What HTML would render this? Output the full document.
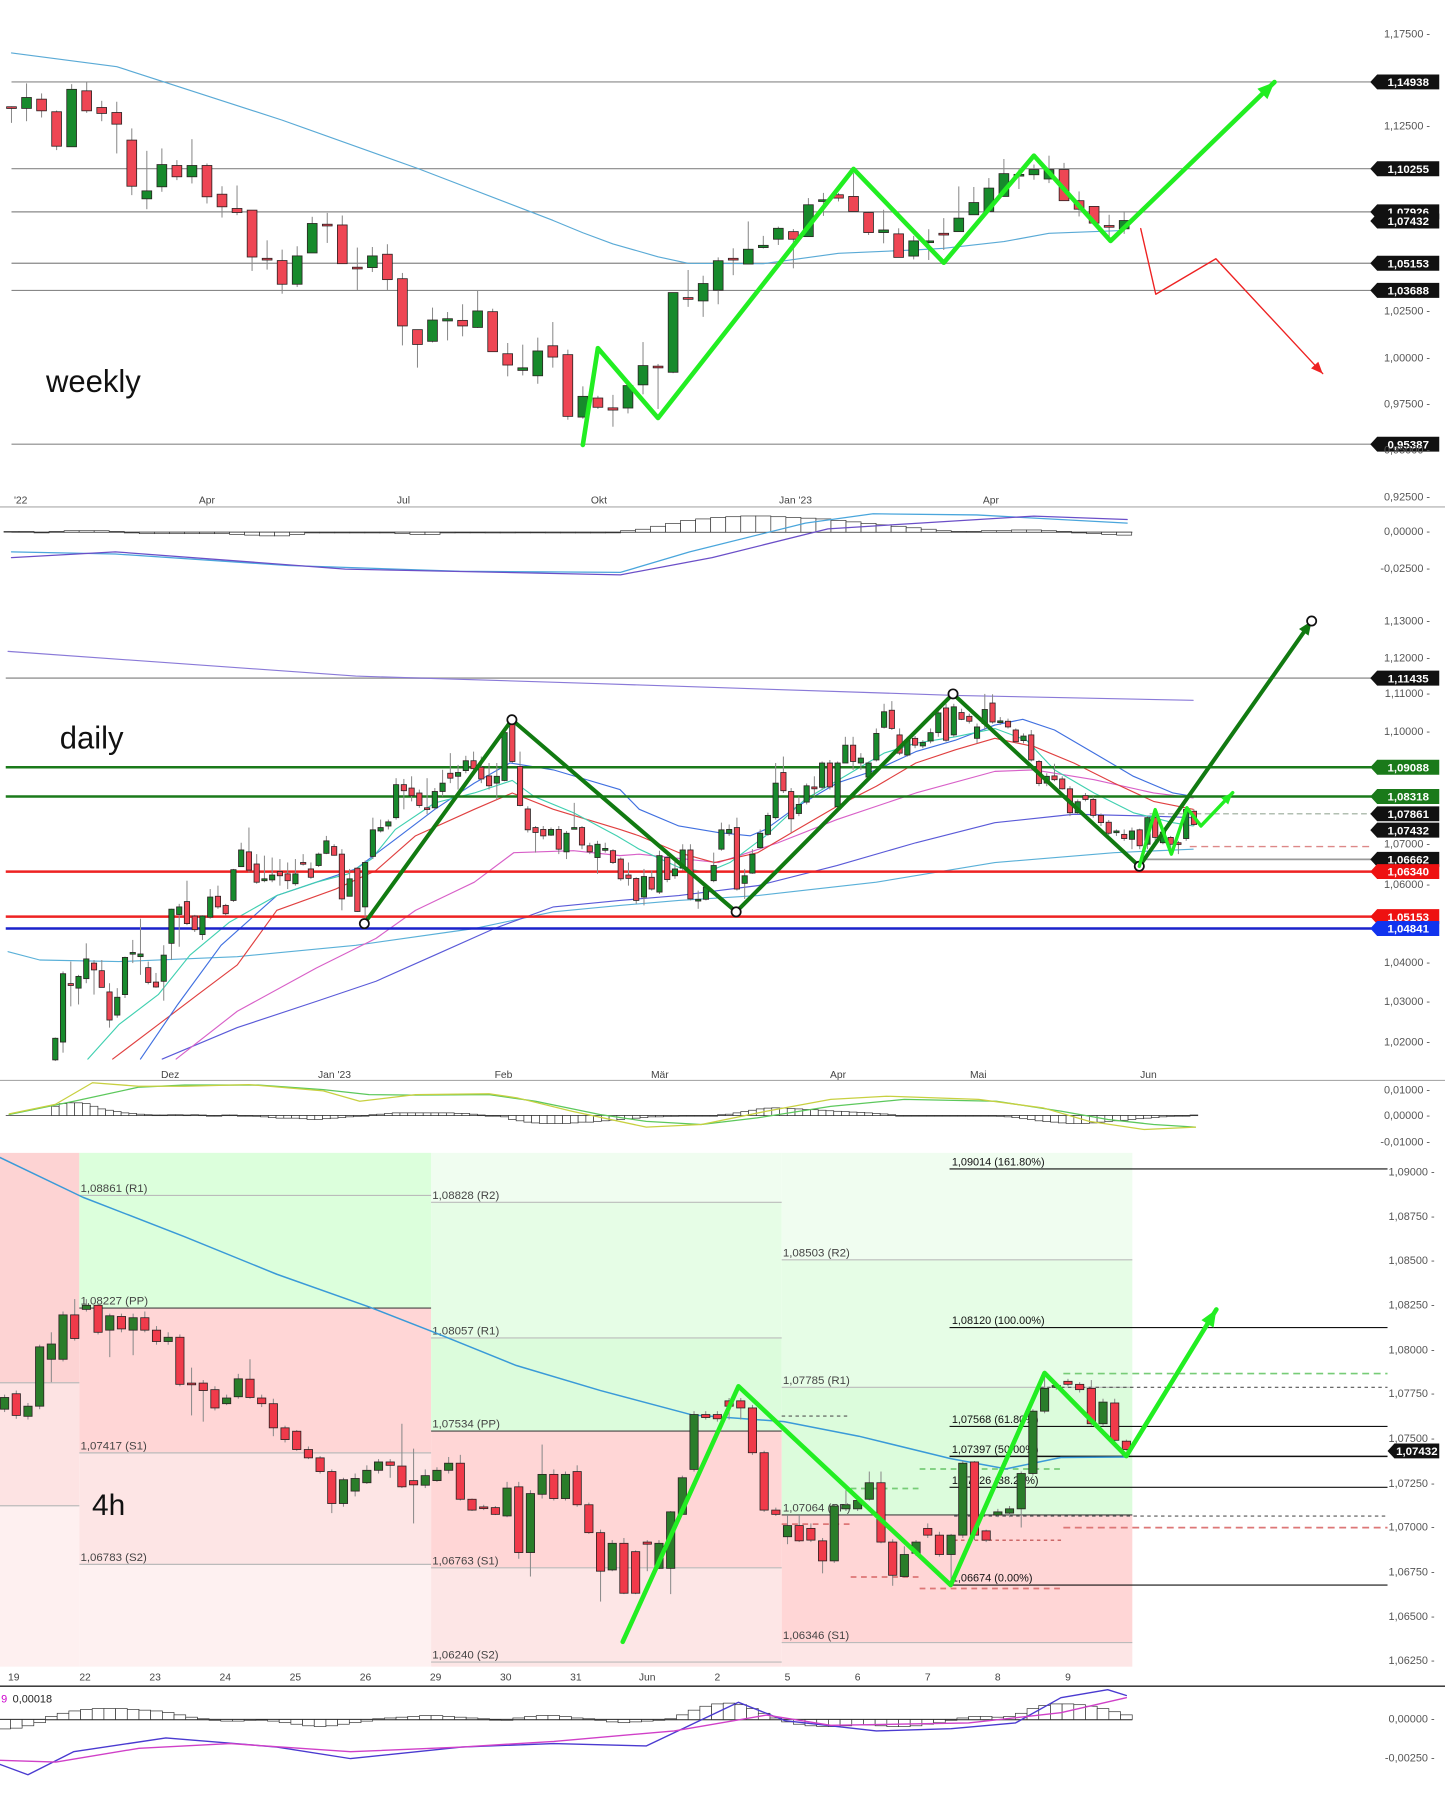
<!DOCTYPE html>
<html><head><meta charset="utf-8"><title>EURUSD weekly / daily / 4h</title>
<style>
html,body{margin:0;padding:0;background:#fff;}
svg{display:block;}
text{font-family:"Liberation Sans",sans-serif;}
.ax{font-size:9.5px;fill:#555;}
.dt{font-size:9px;fill:#444;}
.pv{font-size:10px;fill:#444;}
.fb{font-size:9.5px;fill:#111;}
</style></head>
<body>
<svg id="chart" xmlns="http://www.w3.org/2000/svg" width="1445" height="1800" viewBox="0 0 1257 1566" preserveAspectRatio="none">
<rect x="0" y="0" width="1257" height="1566" fill="#fff"/>
<!-- 4h pivot zones -->
<g>
<rect x="0" y="1003" width="69" height="200" fill="#fdd3d3"/>
<rect x="0" y="1203" width="69" height="107" fill="#fde3e3"/>
<rect x="0" y="1310" width="69" height="140" fill="#fef0f0"/>
<rect x="69" y="1003" width="306" height="135" fill="#dcffdc"/>
<rect x="69" y="1138" width="306" height="126" fill="#ffd6d6"/>
<rect x="69" y="1264" width="306" height="97" fill="#fde5e5"/>
<rect x="69" y="1361" width="306" height="89" fill="#fef1f1"/>
<rect x="375" y="1003" width="305" height="43" fill="#f0fdf0"/>
<rect x="375" y="1046" width="305" height="118" fill="#e6fde6"/>
<rect x="375" y="1164" width="305" height="81" fill="#dcfcdc"/>
<rect x="375" y="1245" width="305" height="119" fill="#ffd6d6"/>
<rect x="375" y="1364" width="305" height="86" fill="#fde6e6"/>
<rect x="680" y="1003" width="305" height="93" fill="#f0fdf0"/>
<rect x="680" y="1096" width="305" height="111" fill="#e6fde6"/>
<rect x="680" y="1207" width="305" height="111" fill="#dcfcdc"/>
<rect x="680" y="1318" width="305" height="111" fill="#ffd6d6"/>
<rect x="680" y="1429" width="305" height="21" fill="#fde6e6"/>
</g>
<g>
<line x1="0" x2="69" y1="1203" y2="1203" stroke="#bbb"/>
<line x1="0" x2="69" y1="1310" y2="1310" stroke="#bbb"/>
<line x1="69" x2="375" y1="1040" y2="1040" stroke="#bbb"/>
<line x1="69" x2="375" y1="1138" y2="1138" stroke="#444"/>
<line x1="69" x2="375" y1="1264" y2="1264" stroke="#bbb"/>
<line x1="69" x2="375" y1="1361" y2="1361" stroke="#bbb"/>
<line x1="375" x2="680" y1="1046" y2="1046" stroke="#bbb"/>
<line x1="375" x2="680" y1="1164" y2="1164" stroke="#bbb"/>
<line x1="375" x2="680" y1="1245" y2="1245" stroke="#444"/>
<line x1="375" x2="680" y1="1364" y2="1364" stroke="#bbb"/>
<line x1="375" x2="680" y1="1446" y2="1446" stroke="#bbb"/>
<line x1="680" x2="985" y1="1096" y2="1096" stroke="#bbb"/>
<line x1="680" x2="985" y1="1207" y2="1207" stroke="#bbb"/>
<line x1="680" x2="985" y1="1318" y2="1318" stroke="#444"/>
<line x1="680" x2="985" y1="1429" y2="1429" stroke="#bbb"/>
<text class="pv" x="70" y="1037">1,08861 (R1)</text>
<text class="pv" x="70" y="1135">1,08227 (PP)</text>
<text class="pv" x="70" y="1261">1,07417 (S1)</text>
<text class="pv" x="70" y="1358">1,06783 (S2)</text>
<text class="pv" x="376" y="1043">1,08828 (R2)</text>
<text class="pv" x="376" y="1161">1,08057 (R1)</text>
<text class="pv" x="376" y="1242">1,07534 (PP)</text>
<text class="pv" x="376" y="1361">1,06763 (S1)</text>
<text class="pv" x="376" y="1443">1,06240 (S2)</text>
<text class="pv" x="681" y="1093">1,08503 (R2)</text>
<text class="pv" x="681" y="1204">1,07785 (R1)</text>
<text class="pv" x="681" y="1315">1,07064 (PP)</text>
<text class="pv" x="681" y="1426">1,06346 (S1)</text>
</g>
<g>
<line x1="826" x2="1207" y1="1017" y2="1017" stroke="#111"/>
<line x1="826" x2="1207" y1="1155" y2="1155" stroke="#111"/>
<line x1="826" x2="1207" y1="1241" y2="1241" stroke="#111"/>
<line x1="826" x2="1207" y1="1267" y2="1267" stroke="#111" stroke-width="1.3"/>
<line x1="826" x2="1207" y1="1294" y2="1294" stroke="#111"/>
<line x1="826" x2="1207" y1="1379" y2="1379" stroke="#111"/>
<text class="fb" x="828" y="1014">1,09014 (161.80%)</text>
<text class="fb" x="828" y="1152">1,08120 (100.00%)</text>
<text class="fb" x="828" y="1238">1,07568 (61.80%)</text>
<text class="fb" x="828" y="1264">1,07397 (50.00%)</text>
<text class="fb" x="828" y="1291">1,07226 (38.20%)</text>
<text class="fb" x="828" y="1376">1,06674 (0.00%)</text>
<line x1="925" x2="1207" y1="1195" y2="1195" stroke="#7c7" stroke-width="1.5" stroke-dasharray="6,4"/>
<line x1="905" x2="1207" y1="1207" y2="1207" stroke="#555" stroke-dasharray="3,3"/>
<line x1="830" x2="1207" y1="1319" y2="1319" stroke="#555" stroke-dasharray="3,3"/>
<line x1="925" x2="1207" y1="1329" y2="1329" stroke="#d77" stroke-width="1.5" stroke-dasharray="6,4"/>
<line x1="680" x2="740" y1="1232" y2="1232" stroke="#555" stroke-dasharray="3,3"/>
<line x1="680" x2="740" y1="1326" y2="1326" stroke="#d77" stroke-width="1.5" stroke-dasharray="5,4"/>
<line x1="740" x2="800" y1="1295" y2="1295" stroke="#7c7" stroke-width="1.5" stroke-dasharray="5,4"/>
<line x1="740" x2="800" y1="1372" y2="1372" stroke="#d77" stroke-width="1.5" stroke-dasharray="5,4"/>
<line x1="800" x2="925" y1="1278" y2="1278" stroke="#7c7" stroke-width="1.5" stroke-dasharray="5,4"/>
<line x1="800" x2="925" y1="1382" y2="1382" stroke="#d77" stroke-width="1.5" stroke-dasharray="5,4"/>
<line x1="830" x2="925" y1="1340" y2="1340" stroke="#b44" stroke-dasharray="3,3"/>
</g>
<!-- axis separators -->
<line x1="0" x2="1257" y1="441" y2="441" stroke="#aaa"/>
<line x1="0" x2="1257" y1="940" y2="940" stroke="#aaa"/>
<line x1="0" x2="1257" y1="1467" y2="1467" stroke="#222" stroke-width="1.2"/>
<g id="plot"></g>
<!-- axis labels -->
<g text-anchor="end" dominant-baseline="middle">
<text class="ax" x="1244" y="30">1,17500 -</text>
<text class="ax" x="1244" y="110">1,12500 -</text>
<text class="ax" x="1244" y="271">1,02500 -</text>
<text class="ax" x="1244" y="312">1,00000 -</text>
<text class="ax" x="1244" y="352">0,97500 -</text>
<text class="ax" x="1244" y="392">0,95000 -</text>
<text class="ax" x="1244" y="433">0,92500 -</text>
<text class="ax" x="1244" y="463">0,00000 -</text>
<text class="ax" x="1244" y="495">-0,02500 -</text>
</g>
<g text-anchor="end" dominant-baseline="middle">
<text class="ax" x="1244" y="541">1,13000 -</text>
<text class="ax" x="1244" y="573">1,12000 -</text>
<text class="ax" x="1244" y="604">1,11000 -</text>
<text class="ax" x="1244" y="637">1,10000 -</text>
<text class="ax" x="1244" y="735">1,07000 -</text>
<text class="ax" x="1244" y="770">1,06000 -</text>
<text class="ax" x="1244" y="838">1,04000 -</text>
<text class="ax" x="1244" y="872">1,03000 -</text>
<text class="ax" x="1244" y="907">1,02000 -</text>
<text class="ax" x="1244" y="949">0,01000 -</text>
<text class="ax" x="1244" y="971">0,00000 -</text>
<text class="ax" x="1244" y="994">-0,01000 -</text>
</g>
<g text-anchor="end" dominant-baseline="middle">
<text class="ax" x="1248" y="1020">1,09000 -</text>
<text class="ax" x="1248" y="1059">1,08750 -</text>
<text class="ax" x="1248" y="1097">1,08500 -</text>
<text class="ax" x="1248" y="1136">1,08250 -</text>
<text class="ax" x="1248" y="1175">1,08000 -</text>
<text class="ax" x="1248" y="1213">1,07750 -</text>
<text class="ax" x="1248" y="1252">1,07500 -</text>
<text class="ax" x="1248" y="1291">1,07250 -</text>
<text class="ax" x="1248" y="1329">1,07000 -</text>
<text class="ax" x="1248" y="1368">1,06750 -</text>
<text class="ax" x="1248" y="1407">1,06500 -</text>
<text class="ax" x="1248" y="1445">1,06250 -</text>
<text class="ax" x="1248" y="1496">0,00000 -</text>
<text class="ax" x="1248" y="1530">-0,00250 -</text>
</g>
<g text-anchor="middle">
<text class="dt" x="18" y="438">'22</text>
<text class="dt" x="180" y="438">Apr</text>
<text class="dt" x="351" y="438">Jul</text>
<text class="dt" x="521" y="438">Okt</text>
<text class="dt" x="692" y="438">Jan '23</text>
<text class="dt" x="862" y="438">Apr</text>
</g>
<g text-anchor="middle">
<text class="dt" x="148" y="938">Dez</text>
<text class="dt" x="291" y="938">Jan '23</text>
<text class="dt" x="438" y="938">Feb</text>
<text class="dt" x="574" y="938">Mär</text>
<text class="dt" x="729" y="938">Apr</text>
<text class="dt" x="851" y="938">Mai</text>
<text class="dt" x="999" y="938">Jun</text>
</g>
<g text-anchor="middle">
<text class="dt" x="12" y="1462">19</text>
<text class="dt" x="74" y="1462">22</text>
<text class="dt" x="135" y="1462">23</text>
<text class="dt" x="196" y="1462">24</text>
<text class="dt" x="257" y="1462">25</text>
<text class="dt" x="318" y="1462">26</text>
<text class="dt" x="379" y="1462">29</text>
<text class="dt" x="440" y="1462">30</text>
<text class="dt" x="501" y="1462">31</text>
<text class="dt" x="563" y="1462">Jun</text>
<text class="dt" x="624" y="1462">2</text>
<text class="dt" x="685" y="1462">5</text>
<text class="dt" x="746" y="1462">6</text>
<text class="dt" x="807" y="1462">7</text>
<text class="dt" x="868" y="1462">8</text>
<text class="dt" x="929" y="1462">9</text>
</g>
<text x="40" y="341" font-size="27" fill="#111" font-family="Liberation Sans, sans-serif">weekly</text>
<text x="52" y="651" font-size="27" fill="#111" font-family="Liberation Sans, sans-serif">daily</text>
<text x="80" y="1318" font-size="26" fill="#111" font-family="Liberation Sans, sans-serif">4h</text>
<text x="1" y="1481" font-size="9.5" fill="#c0c">9</text>
<text x="11" y="1481" font-size="9.5" fill="#222">0,00018</text>
</svg>
<script>
// ===== WEEKLY DATA =====
const wOpen=[1.1360,1.1351,1.1401,1.1333,1.1144,1.1446,1.1356,1.1329,1.1180,1.0863,1.0928,1.1043,1.0982,1.1043,1.0888,1.0811,1.0802,1.0542,1.0530,1.0402,1.0571,1.0726,1.0722,1.0494,1.0492,1.0564,1.0432,1.0157,1.0094,1.0204,1.0207,1.0169,1.0254,1.0027,0.9937,0.9908,1.0070,1.0022,0.9685,0.9788,0.9735,0.9734,0.9859,0.9960,0.9927,1.0330,1.0312,1.0370,1.0542,1.0511,1.0600,1.0645,1.0686,1.0659,1.0849,1.0885,1.0876,1.0789,1.0681,1.0674,1.0554,1.0629,1.0677,1.0686,1.0777,1.0795,1.0876,1.0993,1.0993,1.0970,1.1021,1.0853,1.0822,1.0719,1.0701];
const wHigh=[1.1362,1.1486,1.1432,1.1340,1.1482,1.1493,1.1392,1.1387,1.1243,1.1122,1.1135,1.1072,1.1185,1.1054,1.0931,1.0935,1.0802,1.0639,1.0589,1.0607,1.0766,1.0787,1.0773,1.0600,1.0603,1.0618,1.0463,1.0157,1.0276,1.0252,1.0294,1.0366,1.0270,1.0085,1.0076,1.0114,1.0198,1.0049,0.9851,0.9800,0.9805,0.9864,1.0090,0.9972,1.0357,1.0479,1.0448,1.0547,1.0596,1.0741,1.0663,1.0713,1.0700,1.0867,1.0895,1.0895,1.1002,1.0795,1.0804,1.0704,1.0663,1.0699,1.0759,1.0930,1.0927,1.0975,1.1078,1.1021,1.1048,1.1096,1.1057,1.0903,1.0824,1.0777,1.0795];
const wLow=[1.1273,1.1282,1.1302,1.1126,1.1144,1.1327,1.1282,1.1108,1.0883,1.0807,1.0901,1.0964,1.0946,1.0838,1.0762,1.0775,1.0474,1.0481,1.0351,1.0387,1.0571,1.0625,1.0513,1.0366,1.0468,1.0366,1.0072,0.9952,1.0088,1.0099,1.0121,1.0166,1.0038,0.9905,0.9910,0.9865,0.9952,0.9671,0.9676,0.9729,0.9633,0.9705,0.9808,0.9729,0.9922,1.0280,1.0226,1.0294,1.0451,1.0511,1.0595,1.0614,1.0488,1.0659,1.0771,1.0849,1.0795,1.0668,1.0623,1.0547,1.0536,1.0533,1.0587,1.0686,1.0777,1.0790,1.0876,1.0916,1.0966,1.0948,1.0853,1.0768,1.0723,1.0659,1.0674];
const wClose=[1.1358,1.1410,1.1338,1.1147,1.1454,1.1338,1.1324,1.1266,1.0931,1.0906,1.1048,1.0982,1.1043,1.0874,1.0820,1.0789,1.0549,1.0538,1.0402,1.0555,1.0730,1.0719,1.0513,1.0490,1.0555,1.0427,1.0177,1.0077,1.0209,1.0216,1.0177,1.0258,1.0038,0.9966,0.9951,1.0042,1.0009,0.9689,0.9797,0.9738,0.9723,0.9855,0.9963,0.9956,1.0357,1.0325,1.0406,1.0529,1.0533,1.0591,1.0612,1.0704,1.0645,1.0831,1.0858,1.0867,1.0795,1.0681,1.0695,1.0547,1.0636,1.0636,1.0668,1.0759,1.0843,1.0921,1.0999,1.0995,1.1021,1.1021,1.0853,1.0807,1.0732,1.0710,1.0746];
const wMA=[[0,1.165],[7,1.1576],[18,1.1288],[27,1.1027],[36,1.0747],[38,1.068],[40,1.062],[43,1.055],[45,1.0515],[50,1.0513],[55,1.0569],[60,1.0587],[62,1.0596],[66,1.0632],[69,1.0677],[74,1.0692]];
const wLevels=[1.14938,1.10255,1.07926,1.05153,1.03688,0.95387];
const wTags=['1,14938','1,10255','1,07926','1,05153','1,03688','0,95387'];
const wZigzag=[[38.0,0.9535],[39.0,1.0057],[43.0,0.9680],[56.0,1.1024],[62.0,1.0518],[68.0,1.1096],[73.1,1.0636],[84.0,1.1493]];
const wRedPath=[[75.1,1.0702],[76.1,1.0348],[80.1,1.0540],[87.2,0.9920]];
const wHist=[0.5,0.5,0,0.5,1,1,1,0.5,-0.5,-1,-1,-1,-1,-1,-1,-1.5,-2,-2.5,-2.5,-1.5,-0.5,-0.5,-0.5,-0.5,-0.5,-0.5,-1,-1.5,-1.5,-0.5,-0.3,-0.3,-0.5,-0.5,-0.3,0,-0.5,-0.5,-0.5,-0.5,0,1,2,4,6,8,9,10,10.5,11,11,10.5,10,9.5,9,8,7,6,5,4,3,2,1,0.5,0.5,1,1,1.5,1.5,1,0.5,-0.5,-1,-1.5,-2];
const wMacdA=[[0,-13.3],[6.9,-14.8],[18.4,-22.6],[29.8,-26.5],[40.5,-27.3],[45.1,-13.3],[52.8,6.2],[57.3,12.5],[64.2,11.7],[74.2,6.2]];
const wMacdB=[[0,-17.2],[6.9,-13.3],[22.2,-25],[40.5,-28.9],[46.6,-17.2],[54.3,2.3],[60.4,6.2],[68.0,10.9],[74.2,8.6]];

// ===== DAILY DATA =====
const dOpen=[1.0138,1.0185,1.0339,1.0327,1.0352,1.0393,1.0373,1.0317,1.0256,1.0310,1.0421,1.0410,1.0381,1.0343,1.0345,1.0445,1.0521,1.0555,1.0517,1.0468,1.0514,1.0569,1.0545,1.0558,1.0647,1.0686,1.0654,1.0610,1.0612,1.0634,1.0628,1.0602,1.0658,1.0641,1.0650,1.0682,1.0700,1.0680,1.0569,1.0643,1.0541,1.0674,1.0741,1.0754,1.0776,1.0863,1.0854,1.0841,1.0802,1.0802,1.0845,1.0893,1.0885,1.0900,1.0926,1.0909,1.0886,1.0867,1.0874,1.1024,1.0911,1.0799,1.0750,1.0745,1.0730,1.0745,1.0686,1.0750,1.0750,1.0702,1.0671,1.0690,1.0689,1.0667,1.0625,1.0616,1.0567,1.0619,1.0580,1.0671,1.0623,1.0643,1.0691,1.0561,1.0561,1.0610,1.0693,1.0735,1.0750,1.0603,1.0630,1.0697,1.0732,1.0776,1.0895,1.0845,1.0787,1.0817,1.0857,1.0856,1.0920,1.0805,1.0920,1.0967,1.0920,1.0883,1.0928,1.1014,1.1059,1.0994,1.0941,1.0985,1.0965,1.0978,1.1000,1.1065,1.0994,1.1053,1.1043,1.0985,1.1024,1.1078,1.1031,1.1030,1.1007,1.0979,1.0994,1.0924,1.0867,1.0886,1.0878,1.0852,1.0789,1.0834,1.0824,1.0782,1.0764,1.0738,1.0732,1.0719,1.0744,1.0706,1.0776,1.0710,1.0724,1.0710,1.0721,1.0793];
const dHigh=[1.0197,1.0371,1.0397,1.0362,1.0445,1.0401,1.0401,1.0340,1.0327,1.0410,1.0454,1.0510,1.0397,1.0367,1.0440,1.0536,1.0549,1.0610,1.0520,1.0519,1.0588,1.0597,1.0549,1.0641,1.0710,1.0750,1.0680,1.0676,1.0671,1.0667,1.0658,1.0667,1.0680,1.0658,1.0684,1.0728,1.0706,1.0693,1.0641,1.0645,1.0663,1.0776,1.0771,1.0771,1.0880,1.0878,1.0885,1.0850,1.0880,1.0854,1.0902,1.0946,1.0915,1.0939,1.0950,1.0937,1.0920,1.0920,1.1011,1.1028,1.0950,1.0806,1.0754,1.0754,1.0750,1.0754,1.0741,1.0815,1.0754,1.0710,1.0715,1.0710,1.0693,1.0671,1.0658,1.0619,1.0641,1.0636,1.0689,1.0676,1.0667,1.0706,1.0706,1.0584,1.0597,1.0684,1.0763,1.0758,1.0776,1.0641,1.0693,1.0745,1.0789,1.0920,1.0937,1.0854,1.0832,1.0866,1.0885,1.0924,1.0928,1.0924,1.0989,1.0989,1.0946,1.0924,1.1011,1.1076,1.1083,1.1011,1.0989,1.0991,1.0980,1.1011,1.1059,1.1076,1.1076,1.1063,1.1050,1.1024,1.1102,1.1101,1.1041,1.1037,1.1011,1.0998,1.1007,1.0928,1.0893,1.0918,1.0885,1.0859,1.0824,1.0841,1.0832,1.0787,1.0770,1.0745,1.0745,1.0750,1.0747,1.0780,1.0785,1.0745,1.0728,1.0715,1.0802,1.0798];
const dLow=[1.0135,1.0157,1.0279,1.0284,1.0340,1.0310,1.0329,1.0223,1.0249,1.0301,1.0393,1.0362,1.0337,1.0328,1.0294,1.0401,1.0436,1.0493,1.0475,1.0454,1.0510,1.0536,1.0519,1.0554,1.0647,1.0632,1.0602,1.0606,1.0606,1.0597,1.0588,1.0597,1.0650,1.0615,1.0646,1.0680,1.0676,1.0532,1.0569,1.0528,1.0514,1.0667,1.0737,1.0745,1.0771,1.0798,1.0819,1.0802,1.0785,1.0798,1.0832,1.0867,1.0850,1.0893,1.0898,1.0867,1.0850,1.0824,1.0872,1.0920,1.0806,1.0737,1.0684,1.0719,1.0728,1.0680,1.0667,1.0745,1.0693,1.0680,1.0628,1.0684,1.0654,1.0610,1.0597,1.0549,1.0545,1.0584,1.0575,1.0606,1.0615,1.0637,1.0558,1.0536,1.0558,1.0606,1.0689,1.0728,1.0584,1.0562,1.0628,1.0693,1.0728,1.0771,1.0841,1.0737,1.0780,1.0811,1.0832,1.0850,1.0850,1.0798,1.0920,1.0902,1.0902,1.0876,1.0924,1.1011,1.1007,1.0941,1.0937,1.0959,1.0959,1.0972,1.0989,1.0976,1.0989,1.1033,1.1024,1.0972,1.1007,1.1024,1.1020,1.1011,1.0972,1.0972,1.0924,1.0859,1.0859,1.0872,1.0850,1.0780,1.0785,1.0819,1.0776,1.0754,1.0730,1.0728,1.0715,1.0693,1.0693,1.0693,1.0715,1.0706,1.0684,1.0680,1.0715,1.0754];
const dClose=[1.0195,1.0365,1.0334,1.0358,1.0404,1.0375,1.0329,1.0243,1.0303,1.0408,1.0421,1.0417,1.0342,1.0330,1.0414,1.0535,1.0541,1.0497,1.0481,1.0517,1.0567,1.0541,1.0523,1.0639,1.0691,1.0638,1.0606,1.0615,1.0625,1.0623,1.0610,1.0628,1.0654,1.0619,1.0680,1.0715,1.0677,1.0562,1.0615,1.0529,1.0658,1.0744,1.0750,1.0765,1.0863,1.0847,1.0834,1.0808,1.0799,1.0845,1.0867,1.0880,1.0895,1.0926,1.0905,1.0878,1.0860,1.0885,1.1000,1.0924,1.0808,1.0744,1.0737,1.0728,1.0745,1.0693,1.0735,1.0750,1.0704,1.0686,1.0706,1.0695,1.0658,1.0615,1.0616,1.0558,1.0621,1.0588,1.0676,1.0613,1.0641,1.0691,1.0562,1.0561,1.0593,1.0650,1.0744,1.0745,1.0588,1.0623,1.0680,1.0735,1.0782,1.0867,1.0847,1.0773,1.0811,1.0860,1.0852,1.0920,1.0857,1.0920,1.0967,1.0924,1.0933,1.0920,1.0998,1.1055,1.1011,1.0946,1.0980,1.0967,1.0974,1.1000,1.1052,1.0980,1.1068,1.1035,1.1030,1.1015,1.1061,1.1028,1.1031,1.1015,1.0976,1.0991,1.0928,1.0866,1.0885,1.0876,1.0852,1.0789,1.0818,1.0824,1.0782,1.0763,1.0735,1.0741,1.0721,1.0741,1.0702,1.0776,1.0724,1.0738,1.0706,1.0706,1.0798,1.0758];
const dMA10=[[4.2,1.0140],[8.2,1.0231],[13.3,1.0310],[17.4,1.0414],[22.5,1.0501],[28.6,1.0571],[33.7,1.0606],[37.8,1.0628],[40.8,1.0667],[43.9,1.0745],[49.0,1.0815],[54.1,1.0841],[59.0,1.0874],[61.8,1.0832],[66.9,1.0789],[72.5,1.0728],[75.4,1.0693],[80.5,1.0645],[84.1,1.0632],[87.1,1.0658],[91.7,1.0728],[96.8,1.0824],[101.9,1.0885],[107.0,1.0946],[111.1,1.0972],[116.2,1.0989],[121.3,1.1011],[125.4,1.0980],[129.0,1.0902],[134.1,1.0841],[139.2,1.0789],[144.3,1.0763],[146.9,1.0754]];
const dMA20=[[11.0,1.0140],[15.8,1.0284],[21.4,1.0440],[28.6,1.0571],[33.7,1.0606],[38.8,1.0641],[43.9,1.0719],[49.0,1.0798],[54.1,1.0867],[58.7,1.0920],[64.3,1.0902],[72.9,1.0850],[75.4,1.0798],[80.5,1.0754],[85.6,1.0737],[89.7,1.0728],[91.7,1.0745],[95.8,1.0806],[100.9,1.0867],[106.0,1.0902],[111.1,1.0950],[116.2,1.0980],[121.3,1.1020],[124.9,1.1035],[129.0,1.1007],[134.1,1.0946],[139.2,1.0885],[144.3,1.0841],[146.9,1.0832]];
const dMA30=[[7.4,1.0140],[13.3,1.0231],[18.4,1.0310],[23.5,1.0388],[28.6,1.0532],[36.2,1.0588],[41.4,1.0637],[46.5,1.0728],[54.1,1.0798],[59.0,1.0841],[64.3,1.0798],[72.9,1.0745],[75.4,1.0728],[80.5,1.0684],[85.1,1.0658],[90.7,1.0684],[95.8,1.0745],[100.9,1.0806],[106.0,1.0859],[111.1,1.0920],[116.2,1.0955],[121.3,1.0985],[126.4,1.0963],[131.5,1.0920],[136.7,1.0867],[141.8,1.0819],[146.9,1.0798]];
const dMA50=[[15.6,1.0140],[23.5,1.0266],[33.7,1.0380],[41.4,1.0458],[46.5,1.0532],[54.1,1.0606],[59.2,1.0684],[66.9,1.0689],[72.9,1.0676],[75.4,1.0680],[85.6,1.0658],[93.3,1.0710],[100.9,1.0771],[111.1,1.0841],[121.3,1.0898],[126.4,1.0902],[134.1,1.0876],[141.8,1.0841],[146.9,1.0828]];
const dMA100=[[13.8,1.0140],[23.5,1.0223],[33.7,1.0292],[41.4,1.0345],[49.0,1.0414],[56.7,1.0484],[64.3,1.0541],[72.9,1.0558],[80.5,1.0571],[90.7,1.0597],[100.9,1.0650],[111.1,1.0710],[121.3,1.0763],[131.5,1.0785],[141.8,1.0780],[146.9,1.0776]];
const dMA200=[[-6.1,1.0423],[-2.0,1.0401],[8.2,1.0397],[23.5,1.0410],[38.8,1.0440],[54.1,1.0484],[64.3,1.0528],[72.9,1.0545],[80.5,1.0558],[90.7,1.0571],[106.0,1.0606],[121.3,1.0658],[136.7,1.0684],[146.9,1.0693]];
const dMALong=[[-6.1,1.1214],[38.8,1.1149],[70.3,1.1129],[116.2,1.1098],[146.9,1.1085]];
const dLevels=[1.11435,1.09088,1.08318,1.06340,1.05153,1.04841];
const dLevelColors=['#aaa','#1a7a1a','#1a7a1a','#ee2222','#ee2222','#1a22cc'];
const dTagValues=[1.11435,1.09088,1.08318,1.07861,1.07432,1.06662,1.06340,1.05153,1.04841];
const dTagText=['1,11435','1,09088','1,08318','1,07861','1,07432','1,06662','1,06340','1,05153','1,04841'];
const dTagColors=['#111','#1a7a1a','#1a7a1a','#111','#111','#111','#ee1111','#ee1111','#1133ee'];
const dZigzag=[[39.9,1.0497],[58.95,1.1034],[87.9,1.0528],[115.9,1.1102],[139.95,1.0648],[162.2,1.1294]];
const dSmallZig=[[139.95,1.0648],[142.0,1.0797],[144.1,1.0680],[146.1,1.0802],[147.9,1.0754],[152.0,1.0842]];
const dHist=[3.5,4.5,4.8,4.8,4.5,3.5,2.5,2,1.5,1,0.8,0.5,0.3,0.2,0.2,0.3,0.3,0.2,0.3,0.2,0,0,0.2,0.2,0,0,-0.3,-0.5,-0.8,-1,-1,-1,-1.2,-1.5,-1.5,-1.2,-1,-0.8,-0.5,-0.3,0,0.3,0.5,0.8,1,1,1,1,1,1,1,1,0.8,0.8,0.5,0.2,0,0,-0.5,-1.5,-2,-2.5,-2.8,-3,-3,-3,-3,-2.8,-2.5,-2.5,-2.2,-2,-1.8,-1.5,-1.2,-1,-0.8,-0.5,-0.5,-0.3,-0.3,-0.2,0,0,-0.2,0,0.3,0.5,1,1.5,2,2.5,2.8,2.9,2.8,2.6,2.5,2.3,2.2,2,1.8,1.6,1.5,1.3,1.2,1,0.8,0.6,0.3,0,0,0,0,0,0,0,-0.2,-0.2,0,0,0,-0.2,-0.3,-0.5,-0.8,-1.2,-1.5,-2,-2.3,-2.5,-2.8,-3,-3,-3,-2.8,-2.5,-2.2,-2,-1.8,-1.5,-1.2,-1,-0.8,-0.5,-0.3,-0.2,0,0.2];
const dMacdA=[[-5.95,0.4],[2.4,5.4],[10.7,10.7],[16.7,11.5],[26.2,11.5],[34.6,9.8],[40.5,7.9],[46.5,7.7],[56.0,7.9],[62.0,5.4],[70.3,0.4],[76.3,-2.2],[83.4,-3.4],[90.6,-0.9],[100.1,3.5],[109.6,6.1],[121.5,5.4],[129.9,1.6],[135.9,-1.5],[141.8,-3.4],[147.2,-4.4]];
const dMacdB=[[-5.95,0.6],[0,4.2],[4.8,12.4],[10.7,11.1],[16.7,11.1],[25.0,11.7],[34.6,9.3],[39.3,5.4],[46.5,7.9],[56.0,8.2],[59.6,6.7],[66.7,1.6],[76.3,-4.4],[83.4,-3.4],[91.8,1.6],[100.1,6.1],[107.3,7.3],[119.2,6.1],[127.5,2.9],[133.5,-2.2],[140.6,-5.3],[147.2,-4.4]];

// ===== 4H DATA =====
const hOpen=[1.07667,1.07754,1.07627,1.07684,1.07948,1.07948,1.08198,1.08229,1.08252,1.08112,1.08189,1.08112,1.08182,1.08112,1.08048,1.08072,1.07814,1.07814,1.07777,1.07698,1.07737,1.07836,1.07730,1.07698,1.07562,1.07543,1.07440,1.07393,1.07316,1.07136,1.07206,1.07253,1.07323,1.07370,1.07347,1.07265,1.07239,1.07265,1.07323,1.07363,1.07160,1.07117,1.07113,1.07066,1.07230,1.06860,1.07188,1.07300,1.07164,1.07316,1.07129,1.06972,1.06762,1.06912,1.06865,1.06919,1.06771,1.06771,1.07075,1.07328,1.07637,1.07637,1.07714,1.07714,1.07674,1.07422,1.07099,1.06949,1.07012,1.06996,1.06926,1.06813,1.07106,1.07106,1.07160,1.07253,1.06919,1.06725,1.06856,1.06996,1.06958,1.06849,1.06958,1.07370,1.06982,1.07071,1.07082,1.07106,1.07305,1.07656,1.07791,1.07824,1.07807,1.07784,1.07585,1.07702,1.07487];
const hHigh=[1.07749,1.07772,1.07702,1.08030,1.08100,1.08217,1.08287,1.08287,1.08264,1.08205,1.08205,1.08205,1.08217,1.08135,1.08100,1.08088,1.07901,1.07831,1.07796,1.07749,1.07866,1.07948,1.07749,1.07726,1.07574,1.07550,1.07457,1.07403,1.07328,1.07281,1.07305,1.07351,1.07386,1.07386,1.07585,1.07445,1.07328,1.07340,1.07398,1.07410,1.07164,1.07129,1.07122,1.07258,1.07258,1.07211,1.07468,1.07328,1.07316,1.07351,1.07141,1.06989,1.06930,1.06942,1.06872,1.06930,1.06930,1.07094,1.07293,1.07656,1.07656,1.07656,1.07730,1.07730,1.07691,1.07433,1.07113,1.07071,1.07071,1.07024,1.06942,1.07129,1.07211,1.07169,1.07316,1.07316,1.06935,1.06895,1.06930,1.07024,1.06977,1.06965,1.07375,1.07375,1.06989,1.07106,1.07122,1.07316,1.07667,1.07854,1.07819,1.07838,1.07819,1.07831,1.07726,1.07726,1.07496];
const hLow=[1.07651,1.07613,1.07609,1.07667,1.07819,1.07936,1.08053,1.08217,1.08088,1.07960,1.08100,1.07971,1.08100,1.08030,1.08030,1.07796,1.07632,1.07597,1.07660,1.07690,1.07726,1.07726,1.07679,1.07515,1.07480,1.07433,1.07386,1.07305,1.07082,1.07118,1.07176,1.07246,1.07305,1.07281,1.07223,1.07024,1.07223,1.07258,1.07305,1.07153,1.07094,1.07099,1.07071,1.07059,1.06825,1.06725,1.07164,1.07153,1.07153,1.07118,1.06965,1.06584,1.06755,1.06626,1.06626,1.06755,1.06767,1.06626,1.07071,1.07316,1.07609,1.07597,1.07609,1.07609,1.07410,1.07089,1.07066,1.06907,1.06919,1.06919,1.06743,1.06802,1.07094,1.07094,1.07153,1.06912,1.06673,1.06720,1.06841,1.06942,1.06837,1.06673,1.06942,1.06930,1.06919,1.07059,1.07059,1.07001,1.07293,1.07644,1.07777,1.07796,1.07761,1.07574,1.07574,1.07480,1.07433];
const hClose=[1.07733,1.07632,1.07684,1.08018,1.08034,1.08198,1.08065,1.08252,1.08100,1.08193,1.08119,1.08182,1.08112,1.08048,1.08072,1.07807,1.07805,1.07772,1.07674,1.07730,1.07838,1.07733,1.07698,1.07562,1.07496,1.07440,1.07393,1.07316,1.07136,1.07270,1.07277,1.07323,1.07370,1.07351,1.07230,1.07241,1.07293,1.07323,1.07363,1.07160,1.07099,1.07113,1.07075,1.07223,1.06860,1.07192,1.07300,1.07164,1.07300,1.07129,1.06972,1.06755,1.06912,1.06631,1.06631,1.06907,1.06912,1.07089,1.07281,1.07637,1.07620,1.07613,1.07684,1.07674,1.07422,1.07099,1.07075,1.07012,1.06926,1.06930,1.06813,1.07122,1.07129,1.07153,1.07253,1.06919,1.06732,1.06849,1.06919,1.06958,1.06849,1.06958,1.07363,1.06958,1.06930,1.07089,1.07106,1.07305,1.07656,1.07784,1.07800,1.07807,1.07777,1.07585,1.07707,1.07492,1.07440];
const hMA=[[-0.4,1.09084],[6.7,1.08860],[15.4,1.08638],[23.3,1.08427],[31.2,1.08243],[36.7,1.08101],[43.8,1.07913],[51.0,1.07772],[58.8,1.07635],[66.7,1.07597],[73.1,1.07515],[80.96,1.07389],[85.7,1.07331],[90.4,1.07395],[96.0,1.07398]];
const hZigzag=[[52.9,1.06357],[62.8,1.07796],[80.96,1.06677],[89.0,1.07871],[96.0,1.07403],[103.7,1.08229]];
const hTagValue=1.07432;
const hHist=[-60,-55,-40,-20,20,40,55,65,70,70,70,65,60,55,45,30,15,5,-5,-10,-10,-5,0,-10,-20,-30,-40,-45,-40,-30,-20,-10,5,10,15,20,25,25,20,15,10,5,0,-5,10,20,25,25,20,10,5,-5,-15,-20,-15,-10,-5,5,30,60,85,100,105,95,70,40,10,-15,-30,-40,-45,-45,-40,-35,-35,-40,-45,-45,-40,-30,-20,-5,10,20,20,15,20,40,70,90,100,100,95,85,70,50,30];
const hMacdA=[[-0.4,-287],[2.0,-353],[5.9,-206],[13.8,-118],[23.3,-176],[29.6,-250],[39.1,-176],[47.0,-154],[54.9,-169],[62.8,110],[66.8,-7],[74.6,-73],[81.0,-59],[86.5,-22],[90.4,140],[94.4,191],[96.0,154]];
const hMacdB=[[-0.4,-261],[4.4,-272],[11.5,-184],[19.3,-154],[29.6,-206],[39.1,-176],[47.0,-140],[57.3,-73],[65.2,29],[70.7,-37],[82.5,-22],[90.4,44],[96.0,140]];

// ===== SCALES =====
const xW=i=>10+i*13.08, yW=p=>30+(1.175-p)*1612, yWM=v=>463-v/0.78;
const xD=i=>48.1+i*6.738, yD=p=>538.3+(1.13-p)*3303, yDM=v=>970.5-v*2.3;
const xH=i=>4.0+i*10.165, yH=p=>1020+(1.09-p)*15454, yHM=v=>1496-v*0.136;

const NS='http://www.w3.org/2000/svg';
const plot=document.getElementById('plot');
function el(tag,attrs,parent){const e=document.createElementNS(NS,tag);for(const k in attrs)e.setAttribute(k,attrs[k]);parent.appendChild(e);return e;}
function group(name){const g=el('g',{},plot);
 
 
 return g;}
function hline(g,y,x1,x2,color,w,dash,name){const l=el('line',{x1:x1,x2:x2,y1:y,y2:y,stroke:color,'stroke-width':w},g);if(dash)l.setAttribute('stroke-dasharray',dash);
 
 
 return l;}
function poly(g,pts,xf,yf,color,w,name){const d=pts.map((p,k)=>(k?'L':'M')+xf(p[0]).toFixed(1)+' '+yf(p[1]).toFixed(1)).join(' ');
 const e=el('path',{d:d,fill:'none',stroke:color,'stroke-width':w,'stroke-linejoin':'round','stroke-linecap':'round'},g);
 
 
 return e;}
function arrowHead(g,x1,y1,x2,y2,size,color,name){const a=Math.atan2(y2-y1,x2-x1);const p=[[x2,y2],[x2-size*Math.cos(a-0.4),y2-size*Math.sin(a-0.4)],[x2-size*Math.cos(a+0.4),y2-size*Math.sin(a+0.4)]];
 const e=el('polygon',{points:p.map(q=>q[0].toFixed(1)+','+q[1].toFixed(1)).join(' '),fill:color},g);
 
 }
function tag(g,y,txt,bg,name,x0){x0=x0||1192;const e=el('polygon',{points:`${x0},${y} ${x0+6},${y-6.5} 1252,${y-6.5} 1252,${y+6.5} ${x0+6},${y+6.5}`,fill:bg},g);
 
 
 const t=el('text',{x:(x0+1252)/2+3,y:y+3.6,'text-anchor':'middle','font-size':10,'font-weight':'bold',fill:'#fff'},g);
 t.textContent=txt;
 
 }
function candles(g,O,H,L,C,xf,yf,bw,prefix,upC,dnC){
 for(let i=0;i<O.length;i++){const x=xf(i),up=C[i]>=O[i];
  const w=el('line',{x1:x,x2:x,y1:yf(H[i]),y2:yf(L[i]),stroke:'#8a8a8a','stroke-width':0.9},g);
  
  
  const top=yf(Math.max(O[i],C[i])),bot=yf(Math.min(O[i],C[i]));
  const b=el('rect',{x:x-bw/2,y:top,width:bw,height:Math.max(1.5,bot-top),fill:up?upC:dnC,stroke:'#2a2222','stroke-width':0.7},g);
  
  }}
function hist(g,vals,xf,yf,bw,prefix){const y0=yf(0);
 for(let i=0;i<vals.length;i++){const y=yf(vals[i]);
  const r=el('rect',{x:xf(i)-bw/2,y:Math.min(y,y0),width:bw,height:Math.max(0.6,Math.abs(y-y0)),fill:'#fff',stroke:'#333','stroke-width':0.6},g);
  
  }}
function circle(g,x,y,name){const c=el('circle',{cx:x,cy:y,r:4,fill:'#fff',stroke:'#111','stroke-width':1.5},g);
 
 }

// ===== WEEKLY =====
const gw=group('weekly-panel');
wLevels.forEach(p=>hline(gw,yW(p),10,1195,'#888',1,null,'weekly-level-line'));
poly(gw,wMA,xW,yW,'#5aaad6',1,'weekly-moving-average');
candles(gw,wOpen,wHigh,wLow,wClose,xW,yW,8.5,'weekly','#178a2c','#ee4654');
poly(gw,wZigzag,xW,yW,'#22ee22',4,'weekly-green-projection');
{const n=wZigzag.length,a=wZigzag[n-2],b=wZigzag[n-1];arrowHead(gw,xW(a[0]),yW(a[1]),xW(b[0]),yW(b[1]),16,'#22ee22','weekly-green-arrowhead');}
poly(gw,wRedPath,xW,yW,'#ee2222',1.2,'weekly-red-projection');
{const n=wRedPath.length,a=wRedPath[n-2],b=wRedPath[n-1];arrowHead(gw,xW(a[0]),yW(a[1]),xW(b[0]),yW(b[1]),11,'#ee2222','weekly-red-arrowhead');}
wLevels.forEach((p,k)=>tag(gw,yW(p),wTags[k],'#111','weekly-price-tag'));
tag(gw,yW(1.07432),'1,07432','#111','weekly-last-price-tag');
hline(gw,yWM(0),10,985,'#333',0.7,null,'weekly-macd-zero');
hist(gw,wHist,xW,yWM,13.08,'weekly-macd');
poly(gw,wMacdA,xW,yWM,'#4aa6dc',1.1,'weekly-macd-line');
poly(gw,wMacdB,xW,yWM,'#6b4fc8',1.1,'weekly-signal-line');

// ===== DAILY =====
const gd=group('daily-panel');
hline(gd,yD(1.11435),5,1195,'#aaa',1.5,null,'daily-level-line');
poly(gd,dMALong,xD,yD,'#8a7ad8',1,'daily-long-ma');
poly(gd,dMA200,xD,yD,'#5ab0d8',1,'daily-ma-200');
poly(gd,dMA100,xD,yD,'#5a5ad8',1,'daily-ma-100');
poly(gd,dMA50,xD,yD,'#d860c8',1,'daily-ma-50');
poly(gd,dMA30,xD,yD,'#e04040',1,'daily-ma-30');
poly(gd,dMA20,xD,yD,'#4070e0',1,'daily-ma-20');
poly(gd,dMA10,xD,yD,'#40d0b0',1,'daily-ma-10');
dLevels.slice(1).forEach((p,k)=>hline(gd,yD(p),5,1195,dLevelColors[k+1],2.2,null,'daily-level-line'));
hline(gd,yD(1.06662),995,1195,'#999',1.5,null,'daily-level-line');
hline(gd,yD(1.07861),1000,1195,'#9a9',1,'5,3','daily-dashed-level');
hline(gd,yD(1.0700),1035,1195,'#d88',1.2,'6,4','daily-dashed-level');
candles(gd,dOpen,dHigh,dLow,dClose,xD,yD,4.6,'daily','#178a2c','#ee4654');
poly(gd,dZigzag,xD,yD,'#117a11',3.5,'daily-zigzag');
{const n=dZigzag.length,a=dZigzag[n-2],b=dZigzag[n-1];arrowHead(gd,xD(a[0]),yD(a[1]),xD(b[0]),yD(b[1]),13,'#117a11','daily-arrowhead');}
dZigzag.forEach(p=>circle(gd,xD(p[0]),yD(p[1]),'daily-pivot-marker'));
poly(gd,dSmallZig,xD,yD,'#22ee22',3,'daily-small-projection');
{const n=dSmallZig.length,a=dSmallZig[n-2],b=dSmallZig[n-1];arrowHead(gd,xD(a[0]),yD(a[1]),xD(b[0]),yD(b[1]),11,'#22ee22','daily-small-arrowhead');}
dTagValues.forEach((p,k)=>tag(gd,yD(p),dTagText[k],dTagColors[k],'daily-price-tag'));
hline(gd,yDM(0),5,1040,'#333',0.7,null,'daily-macd-zero');
hist(gd,dHist,xD,yDM,6.738,'daily-macd');
poly(gd,dMacdA,xD,yDM,'#5cc85c',1.1,'daily-macd-line');
poly(gd,dMacdB,xD,yDM,'#c8d040',1.1,'daily-signal-line');

// ===== 4H =====
const gh=group('h4-panel');
poly(gh,hMA,xH,yH,'#3a9ad8',1.3,'h4-moving-average');
candles(gh,hOpen,hHigh,hLow,hClose,xH,yH,7.2,'h4','#2a7d2a','#f03a4a');
poly(gh,hZigzag,xH,yH,'#22ee22',4,'h4-green-projection');
{const n=hZigzag.length,a=hZigzag[n-2],b=hZigzag[n-1];arrowHead(gh,xH(a[0]),yH(a[1]),xH(b[0]),yH(b[1]),16,'#22ee22','h4-arrowhead');}
tag(gh,yH(hTagValue),'1,07432','#111','h4-last-price-tag',1207);
hline(gh,yHM(0),0,985,'#111',1.2,null,'h4-macd-zero');
hist(gh,hHist,xH,yHM,10.165,'h4-macd');
poly(gh,hMacdA,xH,yHM,'#4a3ad0',1.2,'h4-macd-line');
poly(gh,hMacdB,xH,yHM,'#d040c8',1.2,'h4-signal-line');
</script>
</body></html>
